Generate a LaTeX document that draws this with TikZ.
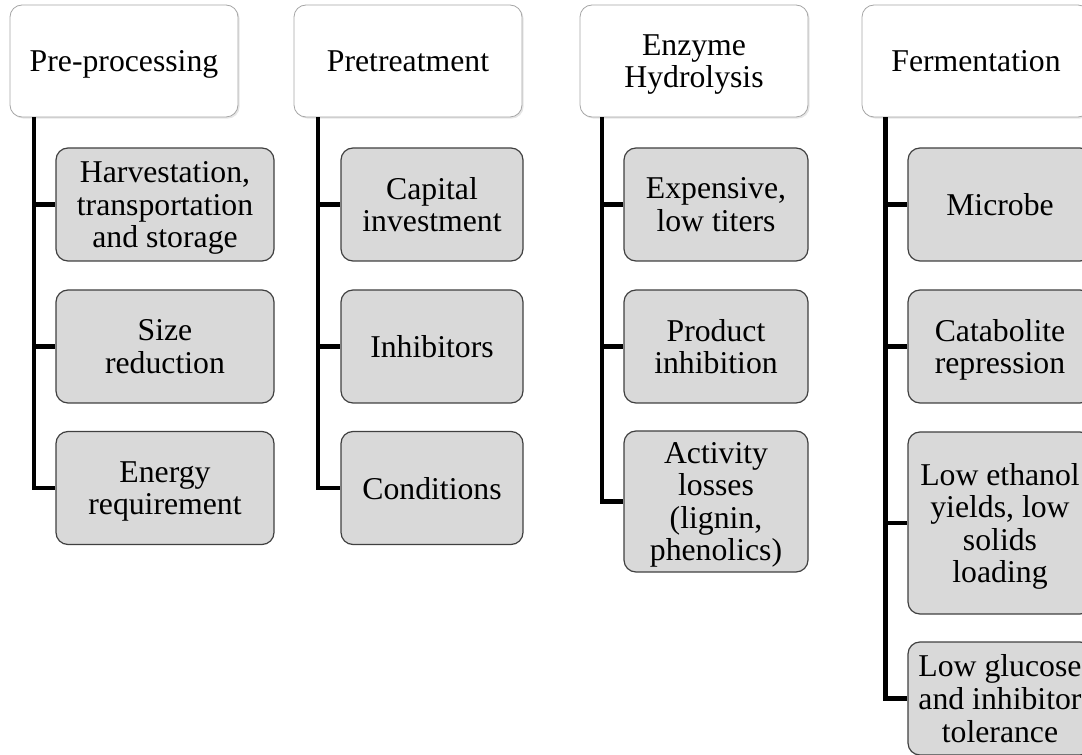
\documentclass[tikz,border=0pt]{standalone}
\usepackage{fontspec}
\setmainfont{Liberation Serif}
\usetikzlibrary{positioning,shadows}
\definecolor{boxgray}{HTML}{D9D9D9}
\definecolor{edgegray}{HTML}{A6A6A6}
\tikzset{
  stage/.style={draw=edgegray,fill=white,rounded corners=9pt,line width=0.6pt,
    minimum width=171pt,minimum height=84pt,align=center,text depth=0pt,
    drop shadow={opacity=0.2,shadow xshift=1.2pt,shadow yshift=-1.2pt}},
  issue/.style={draw=black!75,fill=boxgray,rounded corners=9pt,line width=0.9pt,
    minimum height=84.75pt,align=center,text depth=0pt},
  branch/.style={line width=3.3pt,black}
}
\begin{document}
\begin{tikzpicture}[x=0.75pt,y=-0.75pt,font=\fontsize{23.8}{24.4}\selectfont]
\useasboundingbox (0,0) rectangle (1082,755);
% stages
\node[stage] (pre) at (124,61) {Pre-processing};
\node[stage] (pret) at (408,61) {Pretreatment};
\node[stage] (enz) at (694,61) {Enzyme\\Hydrolysis};
\node[stage] (ferm) at (976,61) {Fermentation};
% pre-processing issues
\node[issue,minimum width=163.5pt] (pre1) at (165,204.5) {Harvestation,\\transportation\\and storage};
\node[issue,minimum width=163.5pt] (pre2) at (165,346.5) {Size\\reduction};
\node[issue,minimum width=163.5pt] (pre3) at (165,488) {Energy\\requirement};
% pretreatment issues
\node[issue,minimum width=136.5pt] (pret1) at (432,204.5) {Capital\\investment};
\node[issue,minimum width=136.5pt] (pret2) at (432,346.5) {Inhibitors};
\node[issue,minimum width=136.5pt] (pret3) at (432,488) {Conditions};
% hydrolysis issues
\node[issue,minimum width=138pt] (enz1) at (716,204.5) {Expensive,\\low titers};
\node[issue,minimum width=138pt] (enz2) at (716,346.5) {Product\\inhibition};
\node[issue,minimum width=138pt,minimum height=105.75pt] (enz3) at (716,501.5) {Activity\\losses\\(lignin,\\phenolics)};
% fermentation issues
\node[issue,minimum width=138pt] (ferm1) at (1000,204.5) {Microbe};
\node[issue,minimum width=138pt] (ferm2) at (1000,346.5) {Catabolite\\repression};
\node[issue,minimum width=138pt,minimum height=136.5pt] (ferm3) at (1000,523) {Low ethanol\\yields, low\\solids\\loading};
\node[issue,minimum width=138pt] (ferm4) at (1000,698.5) {Low glucose\\and inhibitor\\tolerance};
% trunks
\coordinate (pre0) at ([xshift=18.5pt]pre.south west);
\coordinate (pret0) at ([xshift=18.5pt]pret.south west);
\coordinate (enz0) at ([xshift=17pt]enz.south west);
\coordinate (ferm0) at ([xshift=18pt]ferm.south west);
\draw[branch] (pre0) |- (pre1.west);
\draw[branch] (pre0) |- (pre2.west);
\draw[branch] (pre0) |- (pre3.west);
\draw[branch] (pret0) |- (pret1.west);
\draw[branch] (pret0) |- (pret2.west);
\draw[branch] (pret0) |- (pret3.west);
\draw[branch] (enz0) |- (enz1.west);
\draw[branch] (enz0) |- (enz2.west);
\draw[branch] (enz0) |- (enz3.west);
\draw[branch] (ferm0) |- (ferm1.west);
\draw[branch] (ferm0) |- (ferm2.west);
\draw[branch] (ferm0) |- (ferm3.west);
\draw[branch] (ferm0) |- (ferm4.west);
\end{tikzpicture}
\end{document}
